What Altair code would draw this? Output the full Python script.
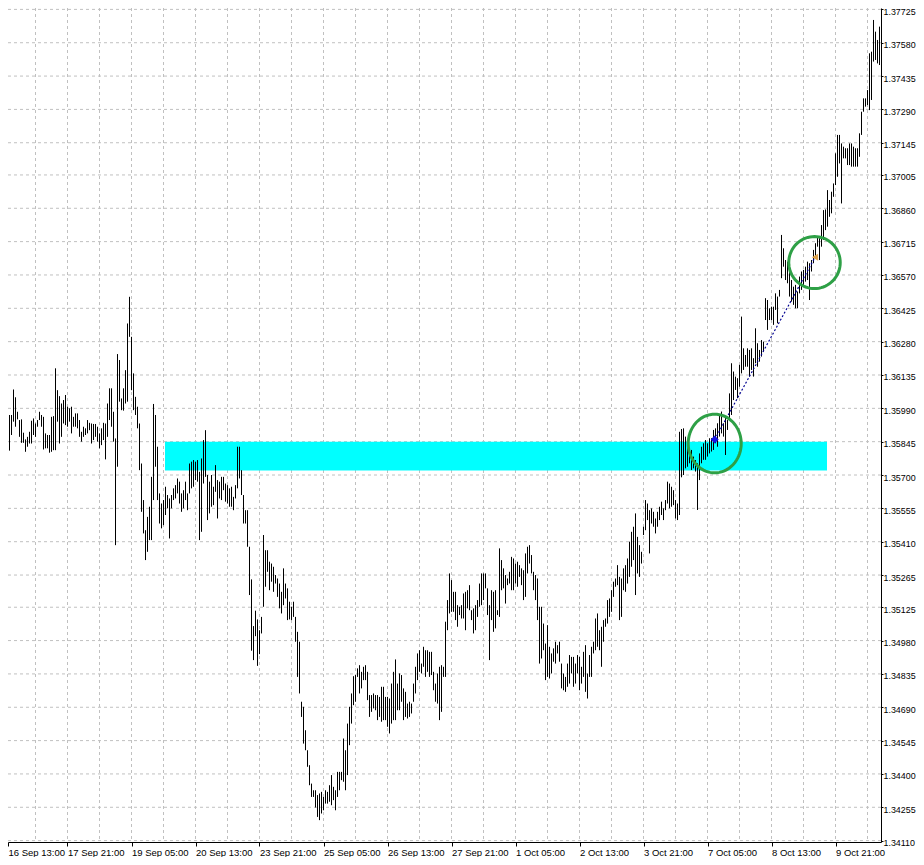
import math
import altair as alt
import pandas as pd

# ---------------- data ----------------
time_labels = ["16 Sep 13:00", "17 Sep 21:00", "19 Sep 05:00", "20 Sep 13:00",
               "23 Sep 21:00", "25 Sep 05:00", "26 Sep 13:00", "27 Sep 21:00",
               "1 Oct 05:00", "2 Oct 13:00", "3 Oct 21:00", "7 Oct 05:00",
               "8 Oct 13:00", "9 Oct 21:00"]
label_bar = [1 + 32 * i for i in range(len(time_labels))]   # H1 bars: one label every 32 bars
grid_bar = list(range(1, 440, 16))                            # vertical grid every 16 bars

price_ticks = [1.34110, 1.34255, 1.34400, 1.34545, 1.34690, 1.34835, 1.34980,
               1.35125, 1.35265, 1.35410, 1.35555, 1.35700, 1.35845, 1.35990,
               1.36135, 1.36280, 1.36425, 1.36570, 1.36715, 1.36860, 1.37005,
               1.37145, 1.37290, 1.37435, 1.37580, 1.37725]

bar_high = [
    1.35809, 1.35811, 1.35826, 1.35878, 1.35961, 1.35961, 1.36072, 1.36038, 1.35975, 1.35939,
    1.35942, 1.35884, 1.35855, 1.35866, 1.35888, 1.35936, 1.35946, 1.35924, 1.35939, 1.35975,
    1.35961, 1.35953, 1.35881, 1.35874, 1.35874, 1.35953, 1.35956, 1.36164, 1.36069, 1.36043,
    1.36011, 1.36026, 1.36048, 1.35997, 1.35990, 1.35997, 1.35953, 1.35968, 1.35968, 1.35939,
    1.35888, 1.35910, 1.35903, 1.35939, 1.35927, 1.35924, 1.35922, 1.35922, 1.35910, 1.35881,
    1.35903, 1.35927, 1.35924, 1.36011, 1.36077, 1.36077, 1.35975, 1.35859, 1.36226, 1.36200,
    1.36033, 1.36077, 1.36156, 1.36359, 1.36475, 1.36301, 1.36142, 1.36040, 1.35997, 1.35924,
    1.35750, 1.35591, 1.35460, 1.35518, 1.35562, 1.35692, 1.36009, 1.35961, 1.35823, 1.35620,
    1.35576, 1.35591, 1.35649, 1.35613, 1.35598, 1.35613, 1.35642, 1.35656, 1.35685, 1.35671,
    1.35620, 1.35634, 1.35671, 1.35620, 1.35750, 1.35758, 1.35765, 1.35758, 1.35765, 1.35714,
    1.35772, 1.35852, 1.35895, 1.35700, 1.35671, 1.35700, 1.35649, 1.35743, 1.35678, 1.35671,
    1.35692, 1.35692, 1.35663, 1.35656, 1.35642, 1.35649, 1.35605, 1.35656, 1.35823, 1.35823,
    1.35721, 1.35613, 1.35547, 1.35547, 1.35388, 1.35246, 1.35043, 1.35110, 1.35072, 1.35025,
    1.35083, 1.35439, 1.35373, 1.35373, 1.35323, 1.35315, 1.35301, 1.35265, 1.35250, 1.35228,
    1.35192, 1.35294, 1.35228, 1.35207, 1.35149, 1.35127, 1.35149, 1.35083, 1.35018, 1.34975,
    1.34714, 1.34692, 1.34590, 1.34503, 1.34438, 1.34358, 1.34329, 1.34329, 1.34308, 1.34315,
    1.34322, 1.34300, 1.34329, 1.34322, 1.34351, 1.34395, 1.34344, 1.34329, 1.34409, 1.34409,
    1.34409, 1.34554, 1.34503, 1.34619, 1.34692, 1.34750, 1.34825, 1.34830, 1.34859, 1.34873,
    1.34844, 1.34866, 1.34873, 1.34844, 1.34743, 1.34743, 1.34750, 1.34743, 1.34743, 1.34735,
    1.34779, 1.34779, 1.34735, 1.34735, 1.34728, 1.34793, 1.34844, 1.34898, 1.34793, 1.34837,
    1.34830, 1.34772, 1.34757, 1.34706, 1.34714, 1.34706, 1.34793, 1.34866, 1.34924, 1.34938,
    1.34880, 1.34953, 1.34938, 1.34938, 1.34931, 1.34931, 1.34844, 1.34793, 1.34837, 1.34866,
    1.34873, 1.34866, 1.35062, 1.35156, 1.35272, 1.35243, 1.35192, 1.35192, 1.35134, 1.35127,
    1.35134, 1.35185, 1.35192, 1.35199, 1.35221, 1.35112, 1.35120, 1.35134, 1.35156, 1.35228,
    1.35272, 1.35272, 1.35272, 1.35207, 1.35134, 1.35199, 1.35192, 1.35199, 1.35112, 1.35381,
    1.35330, 1.35294, 1.35265, 1.35250, 1.35279, 1.35344, 1.35337, 1.35315, 1.35323, 1.35308,
    1.35294, 1.35286, 1.35359, 1.35388, 1.35395, 1.35352, 1.35279, 1.35265, 1.35250, 1.35127,
    1.35127, 1.35054, 1.34967, 1.35047, 1.34953, 1.34924, 1.34946, 1.34975, 1.34960, 1.34975,
    1.34880, 1.34837, 1.34822, 1.34880, 1.34917, 1.34909, 1.34909, 1.34880, 1.34917, 1.34909,
    1.34866, 1.34931, 1.34960, 1.34837, 1.34917, 1.34953, 1.34975, 1.35076, 1.35098, 1.35025,
    1.35040, 1.35069, 1.35076, 1.35156, 1.35163, 1.35199, 1.35236, 1.35250, 1.35308, 1.35257,
    1.35250, 1.35294, 1.35308, 1.35337, 1.35410, 1.35453, 1.35475, 1.35533, 1.35431, 1.35395,
    1.35366, 1.35475, 1.35591, 1.35576, 1.35547, 1.35555, 1.35540, 1.35511, 1.35540, 1.35562,
    1.35584, 1.35555, 1.35591, 1.35671, 1.35663, 1.35649, 1.35634, 1.35591, 1.35576, 1.35888,
    1.35900, 1.35903, 1.35867, 1.35852, 1.35816, 1.35809, 1.35780, 1.35765, 1.35751, 1.35794,
    1.35823, 1.35838, 1.35852, 1.35838, 1.35860, 1.35860, 1.35896, 1.35903, 1.35925, 1.35961,
    1.35976, 1.35925, 1.35954, 1.35939, 1.36055, 1.36186, 1.36150, 1.36128, 1.36121, 1.36179,
    1.36389, 1.36251, 1.36222, 1.36251, 1.36244, 1.36251, 1.36208, 1.36338, 1.36273, 1.36244,
    1.36287, 1.36280, 1.36469, 1.36461, 1.36425, 1.36432, 1.36432, 1.36490, 1.36476, 1.36505,
    1.36744, 1.36686, 1.36635, 1.36628, 1.36592, 1.36548, 1.36519, 1.36527, 1.36498, 1.36563,
    1.36585, 1.36592, 1.36606, 1.36628, 1.36621, 1.36635, 1.36679, 1.36708, 1.36737, 1.36736,
    1.36787, 1.36852, 1.36855, 1.36939, 1.36896, 1.36932, 1.36968, 1.37099, 1.37179, 1.37179,
    1.37142, 1.37128, 1.37121, 1.37121, 1.37142, 1.37142, 1.37128, 1.37121, 1.37121, 1.37186,
    1.37280, 1.37338, 1.37338, 1.37374, 1.37534, 1.37541, 1.37679, 1.37628, 1.37592, 1.37650,
]

bar_low = [
    1.35729, 1.35739, 1.35736, 1.35806, 1.35806, 1.35874, 1.35932, 1.35910, 1.35942, 1.35866,
    1.35840, 1.35840, 1.35801, 1.35823, 1.35837, 1.35837, 1.35874, 1.35866, 1.35910, 1.35939,
    1.35910, 1.35811, 1.35816, 1.35816, 1.35797, 1.35801, 1.35808, 1.35808, 1.35932, 1.35837,
    1.35866, 1.35924, 1.35917, 1.35910, 1.35932, 1.35881, 1.35910, 1.35910, 1.35903, 1.35866,
    1.35845, 1.35866, 1.35874, 1.35881, 1.35895, 1.35837, 1.35852, 1.35866, 1.35845, 1.35816,
    1.35830, 1.35852, 1.35768, 1.35866, 1.35939, 1.35910, 1.35845, 1.35395, 1.35736, 1.36019,
    1.35982, 1.35980, 1.36011, 1.36019, 1.36301, 1.36069, 1.35982, 1.35961, 1.35903, 1.35721,
    1.35540, 1.35446, 1.35330, 1.35366, 1.35417, 1.35417, 1.35591, 1.35736, 1.35591, 1.35489,
    1.35468, 1.35482, 1.35526, 1.35555, 1.35424, 1.35555, 1.35591, 1.35598, 1.35620, 1.35576,
    1.35540, 1.35555, 1.35591, 1.35547, 1.35620, 1.35642, 1.35649, 1.35678, 1.35671, 1.35417,
    1.35453, 1.35663, 1.35692, 1.35504, 1.35533, 1.35562, 1.35569, 1.35627, 1.35511, 1.35598,
    1.35591, 1.35634, 1.35584, 1.35576, 1.35562, 1.35562, 1.35547, 1.35598, 1.35642, 1.35685,
    1.35613, 1.35489, 1.35489, 1.35388, 1.35178, 1.34936, 1.34895, 1.34999, 1.34870, 1.34921,
    1.35011, 1.35127, 1.35214, 1.35279, 1.35199, 1.35236, 1.35192, 1.35228, 1.35170, 1.35120,
    1.35098, 1.35134, 1.35163, 1.35069, 1.35072, 1.35069, 1.35083, 1.34975, 1.34822, 1.34750,
    1.34648, 1.34532, 1.34503, 1.34431, 1.34351, 1.34300, 1.34300, 1.34254, 1.34213, 1.34199,
    1.34228, 1.34242, 1.34271, 1.34271, 1.34279, 1.34264, 1.34286, 1.34242, 1.34300, 1.34329,
    1.34373, 1.34366, 1.34329, 1.34395, 1.34525, 1.34619, 1.34699, 1.34714, 1.34822, 1.34750,
    1.34772, 1.34808, 1.34808, 1.34721, 1.34648, 1.34670, 1.34685, 1.34677, 1.34634, 1.34648,
    1.34627, 1.34634, 1.34634, 1.34605, 1.34576, 1.34619, 1.34634, 1.34634, 1.34677, 1.34677,
    1.34714, 1.34634, 1.34648, 1.34641, 1.34648, 1.34663, 1.34714, 1.34750, 1.34808, 1.34844,
    1.34837, 1.34866, 1.34822, 1.34844, 1.34822, 1.34830, 1.34764, 1.34714, 1.34706, 1.34634,
    1.34670, 1.34822, 1.34822, 1.35025, 1.35098, 1.35105, 1.35105, 1.35069, 1.35040, 1.35091,
    1.35076, 1.35076, 1.35025, 1.35120, 1.35112, 1.35069, 1.35011, 1.35025, 1.35083, 1.35127,
    1.35134, 1.35156, 1.35207, 1.35091, 1.34895, 1.35069, 1.35018, 1.35033, 1.35091, 1.35083,
    1.35199, 1.35207, 1.35141, 1.35221, 1.35228, 1.35199, 1.35199, 1.35228, 1.35214, 1.35257,
    1.35221, 1.35156, 1.35170, 1.35272, 1.35315, 1.35272, 1.35199, 1.35156, 1.35069, 1.34880,
    1.34902, 1.34938, 1.34808, 1.34822, 1.34815, 1.34837, 1.34888, 1.34880, 1.34924, 1.34888,
    1.34772, 1.34764, 1.34757, 1.34779, 1.34793, 1.34837, 1.34779, 1.34793, 1.34837, 1.34764,
    1.34793, 1.34822, 1.34757, 1.34728, 1.34822, 1.34822, 1.34924, 1.34938, 1.34953, 1.34938,
    1.34866, 1.34975, 1.35040, 1.35054, 1.35083, 1.35105, 1.35170, 1.35214, 1.35221, 1.35069,
    1.35083, 1.35199, 1.35192, 1.35228, 1.35257, 1.35301, 1.35330, 1.35178, 1.35272, 1.35257,
    1.35315, 1.35439, 1.35460, 1.35504, 1.35359, 1.35489, 1.35475, 1.35446, 1.35475, 1.35504,
    1.35526, 1.35504, 1.35547, 1.35576, 1.35555, 1.35562, 1.35569, 1.35511, 1.35504, 1.35526,
    1.35690, 1.35700, 1.35729, 1.35736, 1.35751, 1.35722, 1.35729, 1.35715, 1.35548, 1.35678,
    1.35751, 1.35766, 1.35766, 1.35780, 1.35794, 1.35802, 1.35809, 1.35838, 1.35823, 1.35867,
    1.35881, 1.35867, 1.35787, 1.35896, 1.35939, 1.35961, 1.36026, 1.36070, 1.36034, 1.36084,
    1.36142, 1.36157, 1.36171, 1.36171, 1.36128, 1.36157, 1.36128, 1.36186, 1.36171, 1.36193,
    1.36215, 1.36237, 1.36374, 1.36331, 1.36374, 1.36374, 1.36353, 1.36418, 1.36360, 1.36476,
    1.36556, 1.36606, 1.36548, 1.36534, 1.36476, 1.36454, 1.36440, 1.36425, 1.36425, 1.36490,
    1.36505, 1.36519, 1.36541, 1.36548, 1.36461, 1.36585, 1.36621, 1.36650, 1.36693, 1.36635,
    1.36693, 1.36722, 1.36765, 1.36780, 1.36823, 1.36838, 1.36910, 1.36961, 1.36997, 1.37055,
    1.36881, 1.37077, 1.37077, 1.37048, 1.37048, 1.37041, 1.37041, 1.37041, 1.37041, 1.37084,
    1.37179, 1.37280, 1.37302, 1.37309, 1.37287, 1.37331, 1.37498, 1.37505, 1.37490, 1.37483,
]

# cyan zone (bar index range and price range)
zone_bar = [81.75, 412.75]
zone_price = [1.35720, 1.35845]
# trade: entry (blue) and exit (orange) in bar index / price
trade_bar = [356.6, 406.75]
trade_price = [1.35854, 1.36647]
# highlight ellipses
circle_bar = [356.6, 406.5]
circle_price = [1.35837, 1.36624]

# ---------------- chart ----------------
X_DOMAIN = [3.25, 439.75]
Y_DOMAIN = [1.34104, 1.37731]
PLOT_W, PLOT_H = 873, 834
FONT = "Liberation Sans"

xs = alt.Scale(domain=X_DOMAIN, nice=False, zero=False)
ys = alt.Scale(domain=Y_DOMAIN, nice=False, zero=False)

label_js = "[" + ",".join("'" + t + "'" for t in time_labels) + "]"
x_axis = alt.Axis(
    values=[max(v, X_DOMAIN[0]) for v in label_bar],
    labelExpr=label_js + "[round((datum.value - 1) / 32)]",
    orient="bottom", title=None, grid=False,
    domainColor="black", domainWidth=1, tickColor="black", tickSize=4, tickWidth=1,
    labelAlign="left", labelBaseline="top", labelPadding=1,
    labelFont=FONT, labelFontSize=9.5, labelColor="black",
    labelOverlap=False, labelFlush=False,
)
y_axis = alt.Axis(
    values=price_ticks, format=".5f", orient="right", title=None, grid=False,
    domainColor="black", domainWidth=1, tickColor="black", tickSize=2, tickWidth=1,
    labelPadding=0, labelFont=FONT, labelFontSize=8.9, labelColor="black",
    labelBaseline="middle", labelOffset=2, labelOverlap=False, labelFlush=False,
)

bars_df = pd.DataFrame({"bar": list(range(len(bar_high))), "high": bar_high, "low": bar_low})

grid_v = alt.Chart(pd.DataFrame({"bar": grid_bar})).mark_rule(
    color="#c0c0c0", strokeDash=[3, 3], strokeWidth=1, clip=True
).encode(x=alt.X("bar:Q", scale=xs, axis=x_axis))

grid_h = alt.Chart(pd.DataFrame({"price": price_ticks})).mark_rule(
    color="#c0c0c0", strokeDash=[3, 3], strokeWidth=1, clip=True
).encode(y=alt.Y("price:Q", scale=ys, axis=y_axis))

zone = alt.Chart(pd.DataFrame({"b1": [zone_bar[0]], "b2": [zone_bar[1]],
                               "p1": [zone_price[0]], "p2": [zone_price[1]]})).mark_rect(
    color="#00ffff", clip=True
).encode(
    x=alt.X("b1:Q", scale=xs, axis=x_axis), x2="b2:Q",
    y=alt.Y("p1:Q", scale=ys, axis=y_axis), y2="p2:Q",
)

bars = alt.Chart(bars_df).mark_rule(color="black", strokeWidth=1, clip=True).encode(
    x=alt.X("bar:Q", scale=xs, axis=x_axis),
    y=alt.Y("low:Q", scale=ys, axis=y_axis), y2="high:Q",
)

trade = alt.Chart(pd.DataFrame({"bar": trade_bar, "price": trade_price})).mark_line(
    color="#000090", strokeWidth=1.2, strokeDash=[2, 2], clip=True
).encode(
    x=alt.X("bar:Q", scale=xs, axis=x_axis),
    y=alt.Y("price:Q", scale=ys, axis=y_axis),
)


def ellipse_path(rx, ry, n=72):
    pts = [(rx * math.cos(2 * math.pi * i / n), ry * math.sin(2 * math.pi * i / n)) for i in range(n)]
    return "M" + "L".join(f"{x:.4f},{y:.4f}" for x, y in pts) + "Z"


circles_df = pd.DataFrame({
    "bar": circle_bar, "price": circle_price,
    "path": [ellipse_path(0.905, 1.0), ellipse_path(0.99, 1.0)],
    "size": [(2 * 29.3) ** 2, (2 * 26.0) ** 2],
})
circles = alt.Chart(circles_df).mark_point(
    filled=False, color="#2ea046", strokeWidth=3, opacity=1, clip=True
).encode(
    x=alt.X("bar:Q", scale=xs, axis=x_axis),
    y=alt.Y("price:Q", scale=ys, axis=y_axis),
    shape=alt.Shape("path:N", scale=None),
    size=alt.Size("size:Q", scale=None),
)

arrows_df = pd.DataFrame({
    "bar": trade_bar, "price": trade_price,
    "shape": ["diamond", "triangle-left"],
    "col": ["#1414e6", "#dba04a"],
    "size": [64, 52],
})
arrows = alt.Chart(arrows_df).mark_point(filled=True, opacity=1, clip=True).encode(
    x=alt.X("bar:Q", scale=xs, axis=x_axis),
    y=alt.Y("price:Q", scale=ys, axis=y_axis),
    shape=alt.Shape("shape:N", scale=None),
    color=alt.Color("col:N", scale=None),
    size=alt.Size("size:Q", scale=None),
)

# page is 924x865 with an 8px body margin: the svg must stay within 908x849
chart = alt.layer(grid_v, grid_h, zone, bars, trade, circles, arrows).properties(
    width=PLOT_W, height=PLOT_H,
    padding={"left": 0, "top": 0, "right": 35, "bottom": 15},
    autosize=alt.AutoSizeParams(type="none"),
    background="white",
).configure_view(strokeWidth=0)

chart.save("out.html", embed_options={"renderer": "svg", "actions": False})
